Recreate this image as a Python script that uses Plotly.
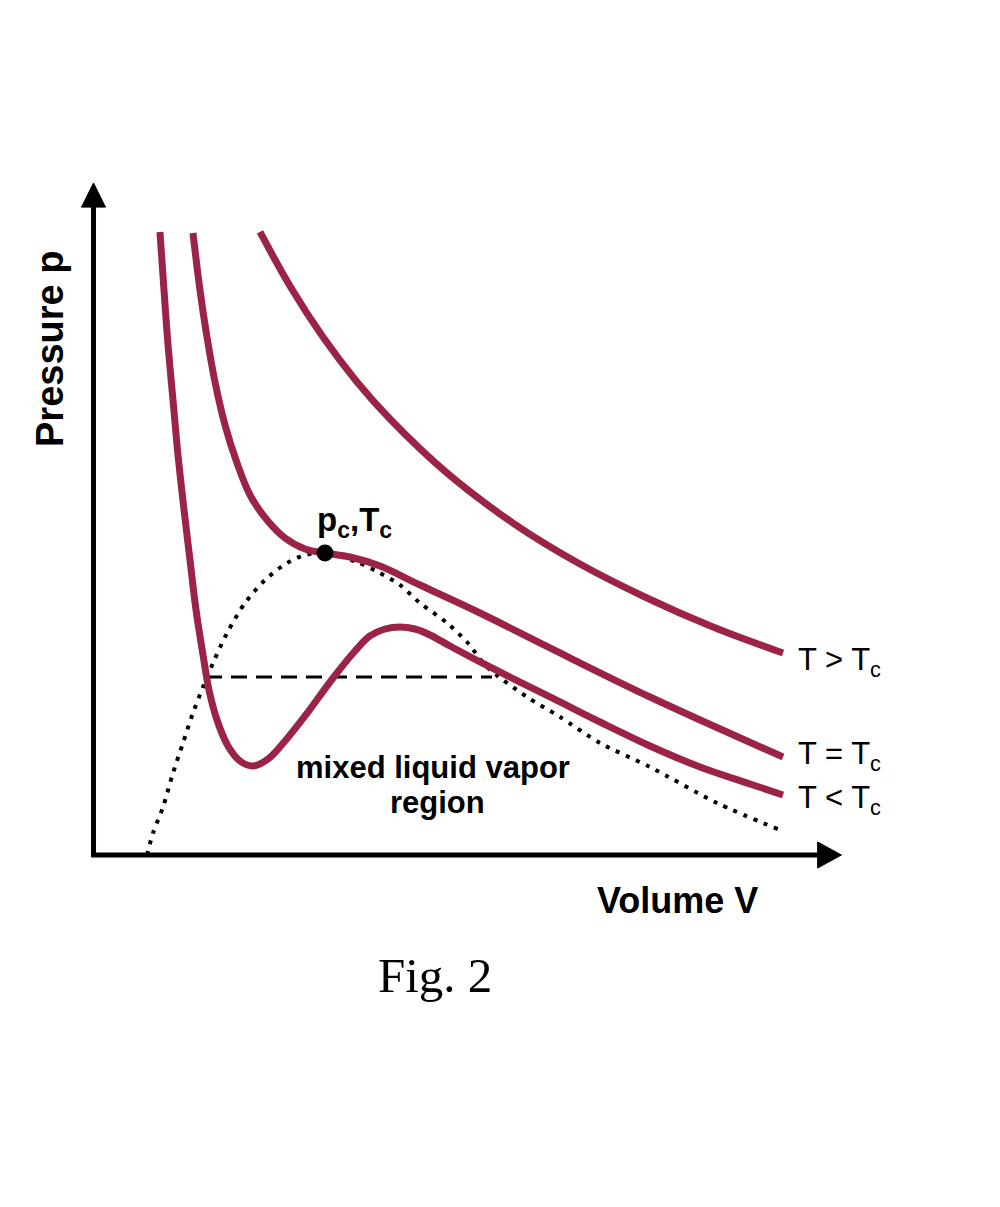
import plotly.graph_objects as go

PX_X = 74.5   # px per V unit (V axis arrow tip at 10)
PX_Y = 67.0   # px per p unit (p axis arrow tip at 10)

def V(px_list):
    return [round((x - 95) / PX_X, 3) for x in px_list]

def P(py_list):
    return [round((855 - y) / PX_Y, 3) for y in py_list]

# Values (image positions, converted to V / p units)
# Isotherm T < Tc (van der Waals loop)
low_x = [160, 164, 168, 173, 178, 184, 190, 196, 203, 209, 217, 228, 240, 253, 268, 285, 305,
         333, 355, 370, 385, 400, 415, 430, 450, 480, 520, 560, 600, 650, 700, 750, 783]
low_y = [232, 290, 345, 400, 455, 510, 560, 610, 655, 690, 720, 746, 761, 766, 759, 741, 716,
         678, 651, 636, 629, 627, 629, 635, 646, 662, 682, 702, 722, 746, 767, 784, 795]

# Critical isotherm T = Tc
crit_x = [193, 200, 207, 215, 225, 237, 250, 267, 285, 305, 325, 350, 380, 420, 480, 550,
          650, 783]
crit_y = [233, 290, 337, 382, 425, 463, 495, 520, 538, 549, 553, 557, 566, 585, 613, 648,
          697, 757]

# Isotherm T > Tc
high_x = [260, 290, 323, 357, 390, 447, 513, 580, 647, 713, 783]
high_y = [232, 286, 337, 382, 419, 473, 523, 564, 598, 627, 653]

# Coexistence (dotted) curve
coex_x = [147, 153, 163, 173, 183, 193, 203, 213, 227, 245, 265, 287, 305, 325, 357, 378,
          400, 420, 447, 467, 487, 527, 560, 600, 650, 717, 780]
coex_y = [855, 833, 807, 773, 743, 713, 687, 663, 633, 603, 580, 563, 555, 553, 562, 572,
          585, 603, 623, 642, 667, 697, 717, 743, 767, 803, 830]

# Maxwell construction (dashed)
maxw_x = [206, 492]
maxw_y = [677, 677]

# Critical point
cp_x = [325]
cp_y = [553]

v_low, p_low = V(low_x), P(low_y)
v_crit, p_crit = V(crit_x), P(crit_y)
v_high, p_high = V(high_x), P(high_y)
v_coex, p_coex = V(coex_x), P(coex_y)
v_maxwell, p_maxwell = V(maxw_x), P(maxw_y)
v_c, p_c = V(cp_x), P(cp_y)

RED = "#9B2446"

fig = go.Figure()
fig.add_trace(go.Scatter(x=v_coex, y=p_coex, mode="lines",
                         line=dict(color="black", width=4, dash="4px,7px", shape="spline", smoothing=0.8),
                         hoverinfo="skip"))
fig.add_trace(go.Scatter(x=v_maxwell, y=p_maxwell, mode="lines",
                         line=dict(color="black", width=3, dash="16px,9px"), hoverinfo="skip"))
for vx, py in [(v_low, p_low), (v_crit, p_crit), (v_high, p_high)]:
    fig.add_trace(go.Scatter(x=vx, y=py, mode="lines",
                             line=dict(color=RED, width=7, shape="spline", smoothing=1.0),
                             hoverinfo="skip"))
fig.add_trace(go.Scatter(x=v_c, y=p_c, mode="markers", marker=dict(color="black", size=17),
                         hoverinfo="skip"))

# axes with arrows
ax0 = -0.02
ytip, ybase, yhw = 10.03, 9.67, 12 / PX_X
xtip, xbase, xhw = 10.02, 9.70, 13 / PX_Y
shapes = [
    dict(type="line", x0=ax0, y0=-0.03, x1=ax0, y1=ybase, line=dict(color="black", width=5)),
    dict(type="line", x0=-0.05, y0=0, x1=xbase, y1=0, line=dict(color="black", width=5)),
    dict(type="path", path=f"M {ax0 - yhw},{ybase} L {ax0 + yhw},{ybase} L {ax0},{ytip} Z",
         fillcolor="black", line=dict(color="black", width=1)),
    dict(type="path", path=f"M {xbase},{-xhw} L {xbase},{xhw} L {xtip},0 Z",
         fillcolor="black", line=dict(color="black", width=1)),
]

SANS = "Liberation Sans, Arial, sans-serif"
def A(px, py, text, size, bold=False, family=SANS, **kw):
    d = dict(x=(px - 95) / PX_X, y=(855 - py) / PX_Y,
             text=f"<b>{text}</b>" if bold else text,
             font=dict(size=size, family=family, color="black"),
             showarrow=False, xref="x", yref="y", xanchor="center", yanchor="middle")
    d.update(kw)
    return d

ann = [
    A(354, 522, "p<sub>c</sub>,T<sub>c</sub>", 33, bold=True),
    A(796, 662, "T &gt; T<sub>c</sub>", 31, xanchor="left"),
    A(796, 756, "T = T<sub>c</sub>", 31, xanchor="left"),
    A(796, 800, "T &lt; T<sub>c</sub>", 31, xanchor="left"),
    A(433, 767, "mixed liquid vapor", 31, bold=True),
    A(437, 802, "region", 31, bold=True),
    A(677, 900, "Volume V", 36, bold=True),
    A(50, 349, "Pressure p", 38, bold=True, textangle=-90),
    A(435, 975, "Fig. 2", 49, family="Liberation Serif, Times New Roman, serif"),
]

fig.update_layout(
    width=1000, height=1207,
    margin=dict(l=0, r=0, t=0, b=0, pad=0),
    paper_bgcolor="white", plot_bgcolor="white",
    showlegend=False,
    xaxis=dict(range=[-95 / PX_X, 905 / PX_X], visible=False, fixedrange=True),
    yaxis=dict(range=[-352 / PX_Y, 855 / PX_Y], visible=False, fixedrange=True),
    shapes=shapes, annotations=ann,
)
fig.write_html("out.html", config={"displayModeBar": False},
               post_script="document.body.style.margin='0';document.body.style.padding='0';")
